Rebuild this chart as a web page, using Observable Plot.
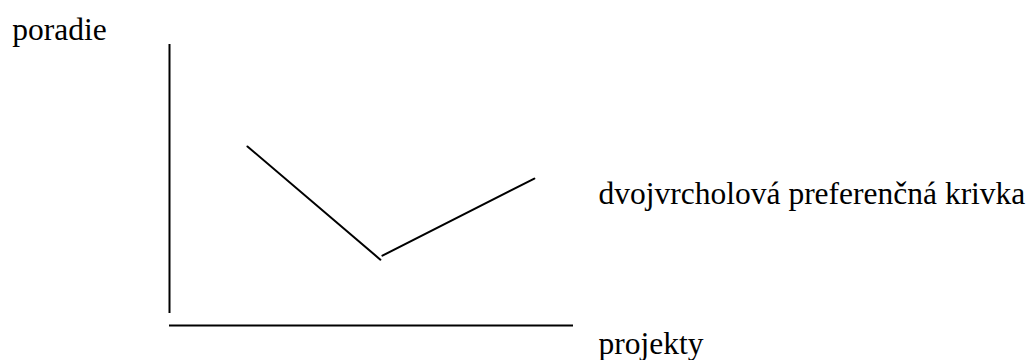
<!DOCTYPE html>
<html>
<head>
<meta charset="utf-8">
<script src="https://cdn.jsdelivr.net/npm/d3@7"></script>
<script src="https://cdn.jsdelivr.net/npm/@observablehq/plot@0.6"></script>
<style>
  html, body { margin: 0; padding: 0; background: #fff; }
</style>
</head>
<body>
<div id="chart"></div>
<script>
// Curve segments (projekty, poradie) in abstract units
const segmentIds = ["a", "a", "b", "b"];
const curveX = [1.93, 5.22, 5.27, 9.03];
const curveY = [4.46, 1.64, 1.74, 3.66];

// Axes lines
const axisXStart = 0, axisXEnd = 10;
const axisYStart = 0.3, axisYEnd = 7;

// Labels
const labelTexts = ["poradie", "dvojvrcholová preferenčná krivka", "projekty"];
const labelX = [-3.89, 10.62, 10.62];
const labelY = [7.37, 3.29, -0.45];

const curve = curveX.map((x, i) => ({x, y: curveY[i], id: segmentIds[i]}));
const labels = labelTexts.map((t, i) => ({t, x: labelX[i], y: labelY[i]}));

const chart = Plot.plot({
  width: 1033,
  height: 360,
  marginLeft: 169,
  marginRight: 460,
  marginTop: 44,
  marginBottom: 35,
  x: {domain: [0, 10], axis: null},
  y: {domain: [0, 7], axis: null},
  marks: [
    Plot.ruleX([axisXStart], {y1: axisYStart, y2: axisYEnd, stroke: "#000", strokeWidth: 2}),
    Plot.ruleY([0], {x1: axisXStart, x2: axisXEnd, stroke: "#000", strokeWidth: 2}),
    Plot.line(curve, {x: "x", y: "y", z: "id", stroke: "#000", strokeWidth: 2}),
    Plot.text(labels, {x: "x", y: "y", text: "t", textAnchor: "start", fontSize: 31.5, fontFamily: "Liberation Serif", fill: "#000"})
  ]
});
document.getElementById("chart").appendChild(chart);
</script>
</body>
</html>
